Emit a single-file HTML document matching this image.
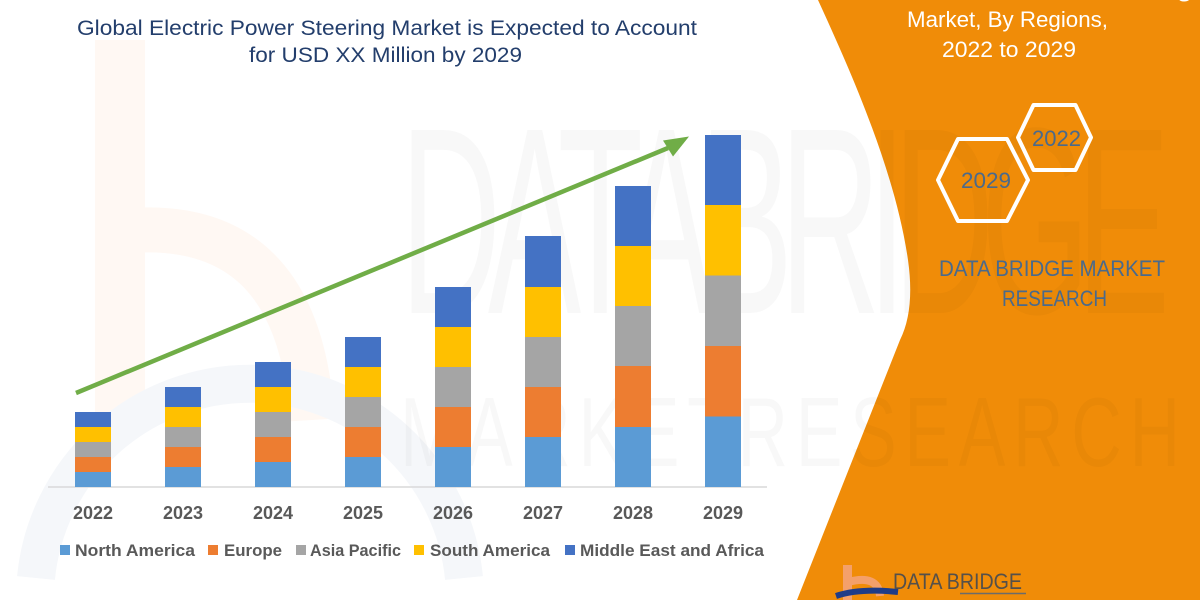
<!DOCTYPE html>
<html>
<head>
<meta charset="utf-8">
<style>
  html, body { margin:0; padding:0; background:#ffffff; width:1200px; height:600px; overflow:hidden; }
  svg { display:block; overflow:hidden; }
  text { font-family: "Liberation Sans", "DejaVu Sans", sans-serif; }
</style>
</head>
<body>
<svg width="1200" height="600" viewBox="0 0 1200 600" xmlns="http://www.w3.org/2000/svg">
  <rect x="0" y="0" width="1200" height="600" fill="#ffffff"/>

  <!-- faint logo watermark on left -->
  <rect x="95" y="40" width="50" height="380" fill="#fff8f3"/>
  <path d="M140 230 Q 300 225 312 420" fill="none" stroke="#fff8f3" stroke-width="45"/>
  <path d="M 36 578 A 215 215 0 0 1 464 578" fill="none" stroke="#f5f7fa" stroke-width="38"/>

  <!-- orange panel -->
  <path d="M818,0 C850,70 895,170 908,260 Q915,310 900,340 L797,600 L1200,600 L1200,0 Z" fill="#f08c08"/>

  <!-- big watermark text -->
  <g opacity="0.022">
    <text x="400" y="0" transform="translate(0,313) scale(1,1.9)" font-size="140" textLength="770" lengthAdjust="spacing" fill="#000">DATABRIDGE</text>
    <text x="400" y="0" transform="translate(0,466) scale(1,1.4)" font-size="70" textLength="780" lengthAdjust="spacing" fill="#000">MARKETRESEARCH</text>
  </g>

  <!-- title -->
  <text x="77" y="35" font-size="21" fill="#233e6c" textLength="620" lengthAdjust="spacingAndGlyphs">Global Electric Power Steering Market is Expected to Account</text>
  <text x="249" y="62" font-size="21" fill="#233e6c" textLength="273" lengthAdjust="spacingAndGlyphs">for USD XX Million by 2029</text>

  <!-- right panel text -->
  <text x="1007" y="-3" font-size="22" fill="#ffffff" text-anchor="middle" textLength="370" lengthAdjust="spacingAndGlyphs">Global Electric Power Steering</text>
  <text x="907" y="27" font-size="22" fill="#ffffff" textLength="201" lengthAdjust="spacingAndGlyphs">Market, By Regions,</text>
  <text x="942" y="57" font-size="22" fill="#ffffff" textLength="134" lengthAdjust="spacingAndGlyphs">2022 to 2029</text>

  <!-- hexagons -->
  <polygon points="1018,137.5 1033.5,105 1075.5,105 1091,137.5 1075.5,170 1033.5,170" fill="none" stroke="#ffffff" stroke-width="4" stroke-linejoin="round"/>
  <polygon points="938,180 958,139 1007,139 1028,180 1007,221 958,221" fill="none" stroke="#ffffff" stroke-width="4" stroke-linejoin="round"/>
  <text x="1032" y="146" font-size="22" fill="#4a6a8c" textLength="49" lengthAdjust="spacingAndGlyphs">2022</text>
  <text x="961" y="188" font-size="22" fill="#4a6a8c" textLength="50" lengthAdjust="spacingAndGlyphs">2029</text>

  <text x="939" y="276" font-size="22" fill="#4a6a8c" textLength="226" lengthAdjust="spacingAndGlyphs">DATA BRIDGE MARKET</text>
  <text x="1002" y="306" font-size="22" fill="#4a6a8c" textLength="105" lengthAdjust="spacingAndGlyphs">RESEARCH</text>

  <!-- bottom logo -->
  <rect x="843" y="565" width="9" height="35" fill="#f4a06a"/>
  <path d="M848 582 Q 878 574 880 596" fill="none" stroke="#f4a06a" stroke-width="8"/>
  <path d="M836 596 Q 860 588 898 592" fill="none" stroke="#1f3c88" stroke-width="6"/>
  <text x="893" y="589" font-size="22" fill="#55504a" textLength="129" lengthAdjust="spacingAndGlyphs">DATA BRIDGE</text>
  <line x1="960" y1="593.5" x2="1026" y2="593.5" stroke="#6b6b6b" stroke-width="1.5"/>

  <!-- axis baseline -->
  <line x1="48" y1="487" x2="767" y2="487" stroke="#d9d9d9" stroke-width="1.5"/>

  <!-- 2022 h=15 -->
  <g>
    <rect x="75" y="472" width="36" height="15" fill="#5b9bd5"/>
    <rect x="75" y="457" width="36" height="15" fill="#ed7d31"/>
    <rect x="75" y="442" width="36" height="15" fill="#a5a5a5"/>
    <rect x="75" y="427" width="36" height="15" fill="#ffc000"/>
    <rect x="75" y="412" width="36" height="15" fill="#4472c4"/>
  </g>
  <!-- 2023 h=20 -->
  <g>
    <rect x="165" y="467" width="36" height="20" fill="#5b9bd5"/>
    <rect x="165" y="447" width="36" height="20" fill="#ed7d31"/>
    <rect x="165" y="427" width="36" height="20" fill="#a5a5a5"/>
    <rect x="165" y="407" width="36" height="20" fill="#ffc000"/>
    <rect x="165" y="387" width="36" height="20" fill="#4472c4"/>
  </g>
  <!-- 2024 h=25 -->
  <g>
    <rect x="255" y="462" width="36" height="25" fill="#5b9bd5"/>
    <rect x="255" y="437" width="36" height="25" fill="#ed7d31"/>
    <rect x="255" y="412" width="36" height="25" fill="#a5a5a5"/>
    <rect x="255" y="387" width="36" height="25" fill="#ffc000"/>
    <rect x="255" y="362" width="36" height="25" fill="#4472c4"/>
  </g>
  <!-- 2025 h=30 -->
  <g>
    <rect x="345" y="457" width="36" height="30" fill="#5b9bd5"/>
    <rect x="345" y="427" width="36" height="30" fill="#ed7d31"/>
    <rect x="345" y="397" width="36" height="30" fill="#a5a5a5"/>
    <rect x="345" y="367" width="36" height="30" fill="#ffc000"/>
    <rect x="345" y="337" width="36" height="30" fill="#4472c4"/>
  </g>
  <!-- 2026 h=40 -->
  <g>
    <rect x="435" y="447" width="36" height="40" fill="#5b9bd5"/>
    <rect x="435" y="407" width="36" height="40" fill="#ed7d31"/>
    <rect x="435" y="367" width="36" height="40" fill="#a5a5a5"/>
    <rect x="435" y="327" width="36" height="40" fill="#ffc000"/>
    <rect x="435" y="287" width="36" height="40" fill="#4472c4"/>
  </g>
  <!-- 2027 h=50 -->
  <g>
    <rect x="525" y="437" width="36" height="50" fill="#5b9bd5"/>
    <rect x="525" y="387" width="36" height="50" fill="#ed7d31"/>
    <rect x="525" y="337" width="36" height="50" fill="#a5a5a5"/>
    <rect x="525" y="287" width="36" height="50" fill="#ffc000"/>
    <rect x="525" y="236" width="36" height="51" fill="#4472c4"/>
  </g>
  <!-- 2028 h=60 -->
  <g>
    <rect x="615" y="427" width="36" height="60" fill="#5b9bd5"/>
    <rect x="615" y="366" width="36" height="61" fill="#ed7d31"/>
    <rect x="615" y="306" width="36" height="60" fill="#a5a5a5"/>
    <rect x="615" y="246" width="36" height="60" fill="#ffc000"/>
    <rect x="615" y="186" width="36" height="60" fill="#4472c4"/>
  </g>
  <!-- 2029 h=70 -->
  <g>
    <rect x="705" y="416.5" width="36" height="70.5" fill="#5b9bd5"/>
    <rect x="705" y="346" width="36" height="70.5" fill="#ed7d31"/>
    <rect x="705" y="275.5" width="36" height="70.5" fill="#a5a5a5"/>
    <rect x="705" y="205" width="36" height="70.5" fill="#ffc000"/>
    <rect x="705" y="135" width="36" height="70" fill="#4472c4"/>
  </g>

  <!-- green arrow -->
  <line x1="76" y1="393" x2="668" y2="148" stroke="#70ad47" stroke-width="4.5"/>
  <polygon points="689,136.5 663,140.5 673,156.5" fill="#70ad47"/>

  <!-- year labels -->
  <g font-size="18" font-weight="bold" fill="#595959" text-anchor="middle">
    <text x="93" y="519">2022</text>
    <text x="183" y="519">2023</text>
    <text x="273" y="519">2024</text>
    <text x="363" y="519">2025</text>
    <text x="453" y="519">2026</text>
    <text x="543" y="519">2027</text>
    <text x="633" y="519">2028</text>
    <text x="723" y="519">2029</text>
  </g>

  <!-- legend -->
  <g font-size="17" font-weight="bold" fill="#595959">
    <rect x="60" y="545" width="10" height="10" fill="#5b9bd5"/>
    <text x="75" y="556" textLength="120" lengthAdjust="spacingAndGlyphs">North America</text>
    <rect x="208" y="545" width="10" height="10" fill="#ed7d31"/>
    <text x="224" y="556" textLength="58" lengthAdjust="spacingAndGlyphs">Europe</text>
    <rect x="296" y="545" width="10" height="10" fill="#a5a5a5"/>
    <text x="310" y="556" textLength="91" lengthAdjust="spacingAndGlyphs">Asia Pacific</text>
    <rect x="414" y="545" width="10" height="10" fill="#ffc000"/>
    <text x="430" y="556" textLength="120" lengthAdjust="spacingAndGlyphs">South America</text>
    <rect x="565" y="545" width="10" height="10" fill="#4472c4"/>
    <text x="580" y="556" textLength="184" lengthAdjust="spacingAndGlyphs">Middle East and Africa</text>
  </g>
</svg>
</body>
</html>
